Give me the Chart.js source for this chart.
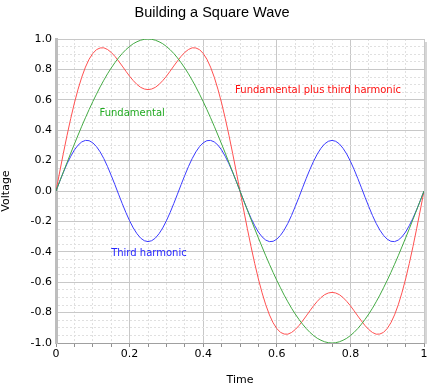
<!DOCTYPE html>
<html>
<head>
<meta charset="utf-8">
<script src="https://cdn.jsdelivr.net/npm/chart.js@4"></script>
<style>
html,body{margin:0;padding:0;background:#fff;}
#wrap{width:442px;height:390px;}
</style>
</head>
<body>
<div id="wrap"><canvas id="c" width="442" height="390"></canvas></div>
<script>
const time = [0,0.01,0.02,0.03,0.04,0.05,0.06,0.07,0.08,0.09,0.1,0.11,0.12,0.13,0.14,0.15,0.16,0.17,0.18,0.19,0.2,0.21,0.22,0.23,0.24,0.25,0.26,0.27,0.28,0.29,0.3,0.31,0.32,0.33,0.34,0.35,0.36,0.37,0.38,0.39,0.4,0.41,0.42,0.43,0.44,0.45,0.46,0.47,0.48,0.49,0.5,0.51,0.52,0.53,0.54,0.55,0.56,0.57,0.58,0.59,0.6,0.61,0.62,0.63,0.64,0.65,0.66,0.67,0.68,0.69,0.7,0.71,0.72,0.73,0.74,0.75,0.76,0.77,0.78,0.79,0.8,0.81,0.82,0.83,0.84,0.85,0.86,0.87,0.88,0.89,0.9,0.91,0.92,0.93,0.94,0.95,0.96,0.97,0.98,0.99,1];

const fundamental = [0,0.063,0.125,0.187,0.249,0.309,0.368,0.426,0.482,0.536,0.588,0.637,0.685,0.729,0.771,0.809,0.844,0.876,0.905,0.930,0.951,0.969,0.982,0.992,0.998,1,0.998,0.992,0.982,0.969,0.951,0.930,0.905,0.876,0.844,0.809,0.771,0.729,0.685,0.637,0.588,0.536,0.482,0.426,0.368,0.309,0.249,0.187,0.125,0.063,0,
-0.063,-0.125,-0.187,-0.249,-0.309,-0.368,-0.426,-0.482,-0.536,-0.588,-0.637,-0.685,-0.729,-0.771,-0.809,-0.844,-0.876,-0.905,-0.930,-0.951,-0.969,-0.982,-0.992,-0.998,-1,-0.998,-0.992,-0.982,-0.969,-0.951,-0.930,-0.905,-0.876,-0.844,-0.809,-0.771,-0.729,-0.685,-0.637,-0.588,-0.536,-0.482,-0.426,-0.368,-0.309,-0.249,-0.187,-0.125,-0.063,0];

const thirdHarmonic = [0,0.063,0.123,0.179,0.228,0.270,0.302,0.323,0.333,0.331,0.317,0.292,0.257,0.213,0.161,0.103,0.042,-0.021,-0.083,-0.142,-0.196,-0.243,-0.281,-0.310,-0.327,-0.333,-0.327,-0.310,-0.281,-0.243,-0.196,-0.142,-0.083,-0.021,0.042,0.103,0.161,0.213,0.257,0.292,0.317,0.331,0.333,0.323,0.302,0.270,0.228,0.179,0.123,0.063,0,
-0.063,-0.123,-0.179,-0.228,-0.270,-0.302,-0.323,-0.333,-0.331,-0.317,-0.292,-0.257,-0.213,-0.161,-0.103,-0.042,0.021,0.083,0.142,0.196,0.243,0.281,0.310,0.327,0.333,0.327,0.310,0.281,0.243,0.196,0.142,0.083,0.021,-0.042,-0.103,-0.161,-0.213,-0.257,-0.292,-0.317,-0.331,-0.333,-0.323,-0.302,-0.270,-0.228,-0.179,-0.123,-0.063,0];

const fundamentalPlusThird = [0,0.125,0.248,0.366,0.477,0.579,0.670,0.749,0.815,0.867,0.905,0.930,0.941,0.942,0.931,0.912,0.886,0.855,0.822,0.788,0.755,0.726,0.701,0.682,0.671,0.667,0.671,0.682,0.701,0.726,0.755,0.788,0.822,0.855,0.886,0.912,0.931,0.942,0.941,0.930,0.905,0.867,0.815,0.749,0.670,0.579,0.477,0.366,0.248,0.125,0,
-0.125,-0.248,-0.366,-0.477,-0.579,-0.670,-0.749,-0.815,-0.867,-0.905,-0.930,-0.941,-0.942,-0.931,-0.912,-0.886,-0.855,-0.822,-0.788,-0.755,-0.726,-0.701,-0.682,-0.671,-0.667,-0.671,-0.682,-0.701,-0.726,-0.755,-0.788,-0.822,-0.855,-0.886,-0.912,-0.931,-0.942,-0.941,-0.930,-0.905,-0.867,-0.815,-0.749,-0.670,-0.579,-0.477,-0.366,-0.248,-0.125,0];

const seriesNames = ['Fundamental','Third harmonic','Fundamental plus third harmonic'];
const xTickLabels = ['0','0.2','0.4','0.6','0.8','1'];
const yTickLabels = ['-1.0','-0.8','-0.6','-0.4','-0.2','0.0','0.2','0.4','0.6','0.8','1.0'];

// label annotations (data coordinates)
const noteText = ['Fundamental','Fundamental plus third harmonic','Third harmonic'];
const noteX = [0.207, 0.712, 0.2525];
const noteY = [0.51, 0.66, -0.41];
const noteColor = ['#22aa22','#ff1010','#2525ff'];

function pts(ys){ return time.map((t,i)=>({x:t,y:ys[i]})); }

const isMajor = v => Math.round(v*20) % 4 === 0;

const frameShadow = {
  id:'frameShadow',
  beforeDraw(chart){
    const a = chart.chartArea, ctx = chart.ctx;
    ctx.save();
    ctx.fillStyle = '#d6d6d6';
    ctx.fillRect(a.right+1, a.top+3, 2, a.bottom-a.top-2);
    ctx.restore();
  }
};
const notes = {
  id:'notes',
  afterDatasetsDraw(chart){
    const ctx = chart.ctx, sx = chart.scales.x, sy = chart.scales.y;
    ctx.save();
    ctx.font = '10px "DejaVu Sans"';
    ctx.textAlign = 'center';
    ctx.textBaseline = 'middle';
    noteText.forEach((t,i)=>{
      ctx.fillStyle = noteColor[i];
      ctx.fillText(t, sx.getPixelForValue(noteX[i]), sy.getPixelForValue(noteY[i]));
    });
    ctx.restore();
  }
};

new Chart(document.getElementById('c'), {
  type:'line',
  data:{
    datasets:[
      {label:seriesNames[0], data:pts(fundamental), borderColor:'#44aa44', borderWidth:1, pointRadius:0, tension:0},
      {label:seriesNames[1], data:pts(thirdHarmonic), borderColor:'#3b3bff', borderWidth:1, pointRadius:0, tension:0},
      {label:seriesNames[2], data:pts(fundamentalPlusThird), borderColor:'#ff5050', borderWidth:1, pointRadius:0, tension:0}
    ]
  },
  options:{
    responsive:false,
    animation:false,
    events:[],
    layout:{padding:{left:0,right:18,top:0,bottom:0}},
    plugins:{
      legend:{display:false},
      tooltip:{enabled:false},
      title:{display:true, text:'Building a Square Wave', color:'#000',
        font:{family:'"Liberation Sans", Arial, sans-serif', size:14.5, weight:'normal'},
        padding:{top:4,bottom:17.6}}
    },
    scales:{
      x:{
        type:'linear', min:0, max:1,
        afterFit(s){ s.height = 47; },
        ticks:{stepSize:0.05, autoSkip:false, maxRotation:0, padding:1, color:'#000',
          font:{family:'"DejaVu Sans"', size:11},
          callback(v){ return isMajor(v) ? xTickLabels[Math.round(v*5)] : ''; }},
        grid:{
          color:c=> isMajor(c.tick.value) ? '#c8c8c8' : '#e0e0e0',
          tickColor:'#909090', tickLength:4, lineWidth:1
        },
        border:{color:'#a0a0a0', width:1, dash:c=> (c.tick && isMajor(c.tick.value)) ? [] : [2,2]},
        title:{display:true, text:'Time', color:'#000', font:{family:'"DejaVu Sans"', size:11}, padding:{top:0,bottom:3}}
      },
      y:{
        type:'linear', min:-1, max:1,
        afterFit(s){ s.width = 56; },
        ticks:{stepSize:0.05, autoSkip:false, padding:4, color:'#000',
          font:{family:'"DejaVu Sans"', size:11},
          callback(v){ return isMajor(v) ? yTickLabels[Math.round(v*5)+5] : ''; }},
        grid:{
          color:c=> isMajor(c.tick.value) ? '#c8c8c8' : '#e0e0e0',
          drawTicks:false, lineWidth:1
        },
        border:{color:'#bdbdbd', width:3, dash:c=> (c.tick && isMajor(c.tick.value)) ? [] : [2,2]},
        title:{display:true, text:'Voltage', color:'#000', font:{family:'"DejaVu Sans"', size:11}, padding:{top:0,bottom:3}}
      }
    }
  },
  plugins:[frameShadow, notes]
});
</script>
</body>
</html>
